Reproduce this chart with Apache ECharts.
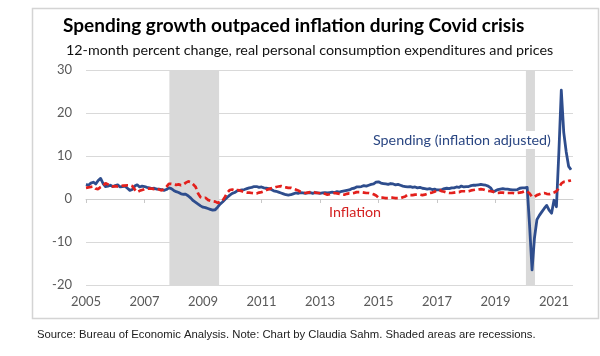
<!DOCTYPE html>
<html><head><meta charset="utf-8">
<script src="https://cdn.jsdelivr.net/npm/echarts@6/dist/echarts.min.js"></script>
<style>html,body{margin:0;padding:0;background:#fff}#c{width:600px;height:356px}</style>
</head><body><div id="c"></div>
<script>
// ---- data (monthly, starting January 2005) ----
const startYear = 2005;
const xTickYears = [2005, 2007, 2009, 2011, 2013, 2015, 2017, 2019, 2021];
const yTicks = [-20, -10, 0, 10, 20, 30];
// Real personal consumption expenditures, 12-month % change
const spending = [
  3.4, 3.2, 3.7, 3.9, 3.5, 4.3, 4.8, 3.6, 2.9, 3.0, 3.2, 2.9,   // 2005
  3.1, 3.3, 2.8, 2.9, 3.0, 2.5, 2.0, 2.2, 3.0, 3.3, 2.8, 3.0,   // 2006
  2.9, 2.7, 2.6, 2.4, 2.5, 2.3, 2.3, 2.2, 2.0, 2.2, 2.6, 2.4,   // 2007
  2.0, 1.7, 1.5, 1.2, 1.1, 1.1, 0.7, 0.2, -0.4, -0.8, -1.2, -1.6, // 2008
  -1.9, -2.0, -2.2, -2.4, -2.6, -2.5, -1.9, -1.2, -0.7, -0.1, 0.4, 0.9, // 2009
  1.3, 1.5, 1.9, 2.0, 2.1, 2.2, 2.4, 2.6, 2.7, 2.9, 2.9, 2.7,   // 2010
  2.8, 2.6, 2.5, 2.4, 2.2, 1.9, 1.8, 1.6, 1.4, 1.2, 1.0, 0.9,   // 2011
  1.0, 1.2, 1.4, 1.3, 1.5, 1.4, 1.3, 1.4, 1.5, 1.3, 1.5, 1.4,   // 2012
  1.3, 1.4, 1.5, 1.4, 1.5, 1.6, 1.5, 1.7, 1.6, 1.8, 1.9, 2.0,   // 2013
  2.1, 2.4, 2.5, 2.8, 2.8, 2.9, 3.1, 3.0, 3.2, 3.4, 3.5, 3.9,   // 2014
  4.0, 3.7, 3.6, 3.5, 3.4, 3.6, 3.5, 3.3, 3.4, 3.2, 3.0, 2.9,   // 2015
  2.8, 2.9, 2.7, 2.8, 2.6, 2.7, 2.5, 2.4, 2.3, 2.4, 2.2, 2.3,   // 2016
  2.1, 2.1, 2.2, 2.4, 2.5, 2.4, 2.6, 2.6, 2.8, 2.7, 3.0, 2.8,   // 2017
  2.9, 2.9, 3.1, 3.2, 3.2, 3.3, 3.4, 3.3, 3.2, 3.0, 2.6, 1.7,   // 2018
  1.9, 2.2, 2.3, 2.4, 2.3, 2.3, 2.2, 2.1, 2.1, 2.2, 2.5, 2.6,   // 2019
  2.6, 2.7, -6.3, -16.5, -9.0, -4.8, -3.8, -3.0, -2.2, -1.5, -2.6, -3.3, // 2020
  -0.3, -1.8, 10.8, 25.3, 15.5, 11.0, 7.6, 6.8                  // 2021
];
// PCE price index, 12-month % change
const inflation = [
  2.6, 2.7, 2.8, 2.9, 2.4, 2.3, 2.8, 3.0, 3.7, 3.4, 3.0, 2.9,   // 2005
  3.0, 2.9, 2.9, 3.1, 3.1, 3.2, 3.2, 3.0, 2.2, 1.6, 1.9, 2.1,   // 2006
  2.3, 2.4, 2.4, 2.4, 2.3, 2.4, 2.2, 2.0, 2.3, 2.8, 3.5, 3.5,   // 2007
  3.4, 3.3, 3.4, 3.2, 3.4, 3.8, 4.1, 3.9, 3.4, 2.8, 1.3, 0.4,   // 2008
  0.2, 0.3, -0.2, -0.4, -0.5, -0.6, -0.9, -0.7, -0.4, 0.5, 1.5, 2.1, // 2009
  2.2, 2.0, 2.1, 2.0, 1.8, 1.6, 1.5, 1.5, 1.4, 1.3, 1.3, 1.5,   // 2010
  1.6, 1.8, 2.1, 2.3, 2.5, 2.6, 2.8, 2.9, 3.0, 2.8, 2.7, 2.6,   // 2011
  2.6, 2.4, 2.2, 2.0, 1.7, 1.5, 1.4, 1.5, 1.6, 1.7, 1.5, 1.4,   // 2012
  1.4, 1.4, 1.2, 1.0, 1.1, 1.3, 1.4, 1.3, 1.2, 1.1, 1.0, 1.2,   // 2013
  1.3, 1.3, 1.4, 1.6, 1.6, 1.6, 1.5, 1.4, 1.4, 1.3, 1.1, 0.8,   // 2014
  0.3, 0.3, 0.3, 0.2, 0.2, 0.3, 0.3, 0.2, 0.2, 0.2, 0.4, 0.6,   // 2015
  1.0, 0.9, 0.9, 1.0, 1.0, 1.0, 0.9, 1.0, 1.2, 1.4, 1.5, 1.7,   // 2016
  2.0, 2.1, 1.8, 1.7, 1.5, 1.4, 1.4, 1.5, 1.6, 1.6, 1.8, 1.8,   // 2017
  1.8, 1.8, 2.0, 2.1, 2.2, 2.2, 2.3, 2.2, 2.0, 1.9, 1.8, 1.7,   // 2018
  1.4, 1.4, 1.5, 1.5, 1.4, 1.4, 1.4, 1.4, 1.3, 1.4, 1.5, 1.6,   // 2019
  1.8, 1.8, 1.3, 0.5, 0.5, 0.9, 1.1, 1.3, 1.4, 1.2, 1.1, 1.3,   // 2020
  1.5, 1.8, 2.5, 3.6, 4.0, 4.0, 4.2, 4.3                        // 2021
];
// Recessions (decimal years, as shaded)
const recessions = [[2007.85, 2009.55], [2020.04, 2020.35]];
const xEndYear = 2021.65;

// ---- build ----
const toX = yr => yr - startYear;
const monthX = i => i / 12;
const spendData = spending.map((v, i) => [monthX(i), v]);
const inflData = inflation.map((v, i) => [monthX(i), v]);
const tickX = xTickYears.map(toX);
const xMax = toX(xEndYear);

const chart = echarts.init(document.getElementById('c'), null, {renderer: 'canvas'});
const labelFont = 'Lato';
chart.setOption({
  animation: false,
  grid: {left: 86, right: 27, top: 70, bottom: 71},
  xAxis: [
    {
      type: 'value', min: 0, max: xMax, interval: 2,
      axisLine: {show: false, onZero: false},
      axisTick: {show: false},
      splitLine: {show: false},
      axisLabel: {
        customValues: tickX,
        formatter: v => String(Math.round(v + startYear)),
        color: '#595959', fontSize: 13, fontFamily: labelFont, margin: 10
      }
    },
    {
      type: 'value', position: 'bottom', min: 0, max: xMax, interval: 2,
      axisLine: {show: true, onZero: true, onZeroAxisIndex: 0, lineStyle: {color: '#d0d0d0', width: 1}},
      axisTick: {show: true, customValues: tickX, length: 4, lineStyle: {color: '#c8c8c8'}},
      axisLabel: {show: false},
      splitLine: {show: false}
    }
  ],
  yAxis: {
    type: 'value', min: yTicks[0], max: yTicks[yTicks.length - 1], interval: 10,
    axisLine: {show: false}, axisTick: {show: false},
    splitLine: {lineStyle: {color: '#d9d9d9', width: 1}},
    axisLabel: {color: '#595959', fontSize: 13, fontFamily: labelFont, margin: 14}
  },
  series: [
    {
      type: 'line', xAxisIndex: 0, data: [], z: 1, silent: true,
      markArea: {
        silent: true,
        itemStyle: {color: '#d9d9d9'},
        data: recessions.map(r => [{xAxis: toX(r[0])}, {xAxis: toX(r[1])}])
      }
    },
    {
      name: 'Spending', type: 'line', xAxisIndex: 0, data: spendData, z: 3,
      showSymbol: false, symbol: 'none',
      lineStyle: {color: '#2e4d8d', width: 2.8, join: 'round'}
    },
    {
      name: 'Inflation', type: 'line', xAxisIndex: 0, data: inflData, z: 4,
      showSymbol: false, symbol: 'none',
      lineStyle: {color: '#e3201c', width: 2.7, type: [6.5, 3.5]}
    }
  ],
  graphic: [
    {type: 'rect', z: -10, shape: {x: 32.5, y: 8.5, width: 566, height: 310},
     style: {fill: 'none', stroke: '#d4d4d4', lineWidth: 1.5}},
    {type: 'text', x: 63, y: 26, z: 10,
     style: {text: 'Spending growth outpaced inflation during Covid crisis',
             font: 'bold 19px Lato', fill: '#000', align: 'left', verticalAlign: 'middle'}},
    {type: 'text', x: 66, y: 50, z: 10,
     style: {text: '12-month percent change, real personal consumption expenditures and prices',
             font: '14.3px Lato', fill: '#111', align: 'left', verticalAlign: 'middle'}},
    {type: 'text', x: 372, y: 140, z: 100,
     style: {text: 'Spending (inflation adjusted)', font: '14.3px Lato', fill: '#2a4682',
             align: 'left', verticalAlign: 'middle', backgroundColor: '#fff', padding: [2, 1]}},
    {type: 'text', x: 329, y: 212, z: 100,
     style: {text: 'Inflation', font: '14.3px Lato', fill: '#d42222',
             align: 'left', verticalAlign: 'middle'}},
    {type: 'text', x: 37, y: 335, z: 10,
     style: {text: 'Source: Bureau of Economic Analysis. Note: Chart by Claudia Sahm. Shaded areas are recessions.',
             font: '11.3px "Liberation Sans"', fill: '#222', align: 'left', verticalAlign: 'middle'}}
  ]
});
</script></body></html>
